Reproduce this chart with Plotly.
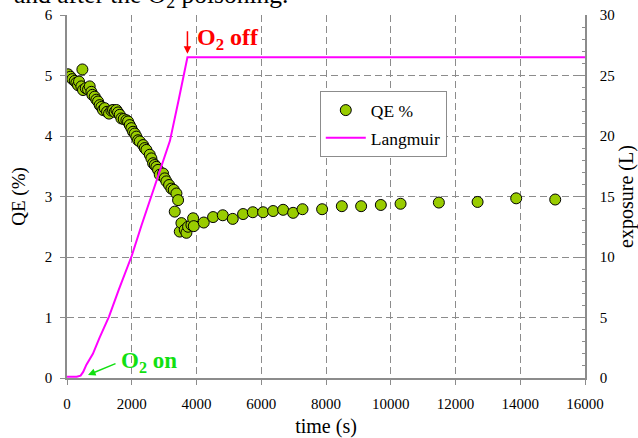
import plotly.graph_objects as go

# QE data (time in s, QE in %)
t_qe = [32, 104, 166, 238, 290, 341, 372, 444, 475, 495, 578, 650, 701, 753, 784, 856, 908, 959,
        1010, 1062, 1113, 1165, 1237, 1299, 1371, 1422, 1474, 1526, 1577, 1629, 1680, 1752, 1835,
        1886, 1938, 1989, 2041, 2092, 2144, 2195, 2247, 2350, 2401, 2453, 2556, 2607, 2659, 2710,
        2762, 2813, 2865, 2968, 3019, 3071, 3153, 3225, 3297, 3328, 3380, 3431, 3483, 3534, 3637,
        3689, 3740, 3843, 3895, 3916, 4224, 4512, 4811, 5120, 5439, 5739, 6057, 6366, 6675, 6984,
        7274, 7880, 8489, 9085, 9694, 10303, 11486, 12682, 13875, 15080]
qe = [5.02, 4.98, 4.94, 4.91, 4.88, 4.84, 4.90, 4.82, 5.10, 4.76, 4.79, 4.77, 4.82, 4.73, 4.68, 4.65,
      4.60, 4.57, 4.51, 4.48, 4.43, 4.46, 4.40, 4.37, 4.42, 4.43, 4.40, 4.43, 4.39, 4.35, 4.29, 4.28,
      4.26, 4.24, 4.18, 4.13, 4.07, 4.04, 3.99, 3.93, 3.91, 3.85, 3.80, 3.77, 3.69, 3.63, 3.55, 3.52,
      3.49, 3.44, 3.36, 3.38, 3.30, 3.25, 3.19, 3.13, 3.11, 2.75, 3.05, 2.94, 2.42, 2.56, 2.45, 2.40,
      2.50, 2.53, 2.64, 2.51, 2.57, 2.66, 2.69, 2.63, 2.71, 2.74, 2.74, 2.76, 2.78, 2.73, 2.79, 2.79,
      2.84, 2.84, 2.86, 2.88, 2.90, 2.91, 2.97, 2.95]

# Langmuir exposure (L)
t_lang = [0, 300, 420, 500, 600, 800, 1000, 1300, 1600, 2000, 2300, 2600, 2900, 3180, 3450, 3720, 16000]
exposure = [0.1, 0.1, 0.2, 0.5, 1.1, 2.0, 3.3, 5.1, 7.3, 10.1, 12.6, 15.0, 17.4, 19.6, 23.0, 26.5, 26.5]

x_ticks = [0, 2000, 4000, 6000, 8000, 10000, 12000, 14000, 16000]
y_ticks = [0, 1, 2, 3, 4, 5, 6]
y2_ticks = [0, 5, 10, 15, 20, 25, 30]

FONT = "Liberation Serif"
GRID = "#8c8c8c"
AXIS = "#8c8c8c"

fig = go.Figure()
fig.add_trace(go.Scatter(
    x=t_qe, y=qe, mode="markers", name="QE %", legendgroup="a",
    marker=dict(size=11, color="#99cc00", line=dict(color="black", width=1)),
    yaxis="y"))
fig.add_trace(go.Scatter(
    x=t_lang, y=exposure, mode="lines", name="Langmuir", legendgroup="b",
    line=dict(color="#ff00ff", width=2), yaxis="y2"))

fig.update_layout(
    width=638, height=438,
    margin=dict(l=67, r=53, t=15, b=60, autoexpand=False),
    paper_bgcolor="white", plot_bgcolor="white",
    font=dict(family=FONT, color="black", size=15),
    xaxis=dict(
        range=[0, 16000], tickvals=x_ticks, ticktext=[str(v) for v in x_ticks],
        showgrid=True, gridcolor=GRID, griddash="7px,4px", gridwidth=1,
        showline=True, linecolor=AXIS, linewidth=1.5, zeroline=False,
        ticks="outside", ticklen=5, tickcolor=AXIS, ticklabelstandoff=6,
        tickfont=dict(size=15), automargin=False,
        title=dict(text="time (s)", font=dict(size=20), standoff=8)),
    yaxis=dict(
        range=[0, 6], tickvals=y_ticks,
        showgrid=True, gridcolor=GRID, griddash="7px,4px", gridwidth=1,
        showline=True, linecolor=AXIS, linewidth=1.5, zeroline=False,
        ticks="outside", ticklen=5, tickcolor=AXIS, ticklabelstandoff=5,
        tickfont=dict(size=15), automargin=False,
        title=dict(text="QE (%)", font=dict(size=19), standoff=14)),
    yaxis2=dict(
        range=[0, 30], tickvals=y2_ticks, overlaying="y", side="right",
        showgrid=False, showline=True, linecolor=AXIS, linewidth=1.5, zeroline=False,
        ticks="inside", ticklen=5, tickcolor=AXIS,
        minor=dict(dtick=1, ticks="inside", ticklen=3, tickcolor=AXIS, showgrid=False),
        ticklabelstandoff=10, automargin=False,
        tickfont=dict(size=15),
        title=dict(text="exposure (L)", font=dict(size=20), standoff=12)),
    legend=dict(
        x=0.488, y=0.79, xanchor="left", yanchor="top",
        bgcolor="white", bordercolor="#8c8c8c", borderwidth=1,
        font=dict(size=17.5), tracegroupgap=2, itemwidth=40),
    showlegend=True,
)

# O2 off arrow and label
fig.add_annotation(x=3720, y=26.8, xref="x", yref="y2", text="", showarrow=True,
                   ax=0, ay=-24, arrowhead=2, arrowsize=1, arrowwidth=1.5, arrowcolor="red")
fig.add_annotation(x=4966, y=28.0, xref="x", yref="y2",
                   text="<b>O<sub>2</sub> off</b>", showarrow=False,
                   font=dict(size=24, color="red"))

# O2 on arrow and label
fig.add_annotation(x=649, y=0.25, xref="x", yref="y2", text="", showarrow=True,
                   ax=29, ay=-12, arrowhead=2, arrowsize=1, arrowwidth=1.5, arrowcolor="#11e011")
fig.add_annotation(x=2531, y=1.32, xref="x", yref="y2",
                   text="<b>O<sub>2</sub> on</b>", showarrow=False,
                   font=dict(size=23, color="#11e011"))

# cut-off caption text at the top
fig.add_annotation(x=(12 - 67) / 518, y=1.002, xref="paper", yref="paper",
                   xanchor="left", yanchor="bottom", showarrow=False,
                   text="and after the O<sub>2</sub> poisoning.",
                   font=dict(size=25.5, color="black"))

fig.write_html("out.html", config={"displayModeBar": False},
               post_script="document.body.style.margin='0px';document.body.style.padding='0px';")
